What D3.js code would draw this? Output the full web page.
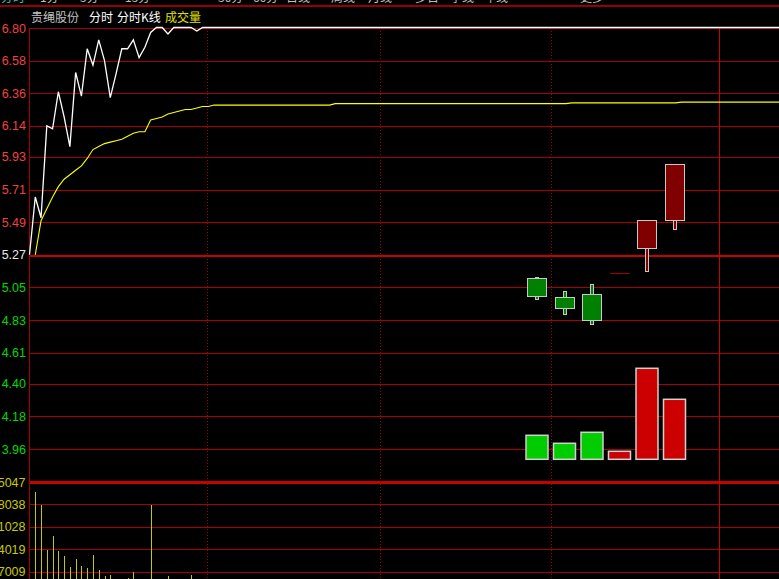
<!DOCTYPE html>
<html><head><meta charset="utf-8">
<script src="https://cdn.jsdelivr.net/npm/d3@7/dist/d3.min.js"></script>
<style>html,body{margin:0;padding:0;background:#000;overflow:hidden}</style>
</head><body>
<script>
// ---------- data ----------
const stockName = "贵绳股份";
const headerItems = ["分时", "分时K线", "成交量"];
const tabLabels = ["分时", "1分", "5分", "15分", "30分", "60分", "日线", "周线", "月线", "多日", "季线", "年线", "更多"];
const priceTicks = [6.80, 6.58, 6.36, 6.14, 5.93, 5.71, 5.49, 5.27, 5.05, 4.83, 4.61, 4.40, 4.18, 3.96];
const prevClose = 5.27;
const limitPrice = 6.80;
const volTicks = [35047, 28038, 21028, 14019, 7009];

const price = [
  5.27, 5.66, 5.52, 6.14, 6.12, 6.37, 6.20, 6.00, 6.50, 6.34,
  6.66, 6.55, 6.72, 6.58, 6.33, 6.49, 6.66, 6.66, 6.72, 6.60,
  6.67, 6.77, 6.80, 6.80, 6.76, 6.80, 6.80, 6.80, 6.80, 6.78,
  6.80, 6.80, 6.80, 6.80, 6.80, 6.80, 6.80, 6.80, 6.80, 6.80,
  6.80, 6.80, 6.80, 6.80, 6.80, 6.80, 6.80, 6.80, 6.80, 6.80,
  6.80, 6.80, 6.80, 6.80, 6.80, 6.80, 6.80, 6.80, 6.80, 6.80,
  6.80, 6.80, 6.80, 6.80, 6.80, 6.80, 6.80, 6.80, 6.80, 6.80,
  6.80, 6.80, 6.80, 6.80, 6.80, 6.80, 6.80, 6.80, 6.80, 6.80,
  6.80, 6.80, 6.80, 6.80, 6.80, 6.80, 6.80, 6.80, 6.80, 6.80,
  6.80, 6.80, 6.80, 6.80, 6.80, 6.80, 6.80, 6.80, 6.80, 6.80,
  6.80, 6.80, 6.80, 6.80, 6.80, 6.80, 6.80, 6.80, 6.80, 6.80,
  6.80, 6.80, 6.80, 6.80, 6.80, 6.80, 6.80, 6.80, 6.80, 6.80,
  6.80, 6.80, 6.80, 6.80, 6.80, 6.80, 6.80, 6.80, 6.80, 6.80,
  6.80
];
const avgPrice = [
  null, 5.27, 5.50, 5.58, 5.66, 5.73, 5.78, 5.81, 5.84, 5.87,
  5.92, 5.98, 6.00, 6.02, 6.03, 6.04, 6.05, 6.07, 6.09, 6.10,
  6.10, 6.18, 6.19, 6.20, 6.22, 6.23, 6.24, 6.25, 6.25, 6.26,
  6.27, 6.27, 6.28, 6.28, 6.28, 6.28, 6.28, 6.28, 6.28, 6.28,
  6.28, 6.28, 6.28, 6.28, 6.28, 6.28, 6.28, 6.28, 6.28, 6.28,
  6.28, 6.28, 6.28, 6.29, 6.29, 6.29, 6.29, 6.29, 6.29, 6.29,
  6.29, 6.29, 6.29, 6.29, 6.29, 6.29, 6.29, 6.29, 6.29, 6.29,
  6.29, 6.29, 6.29, 6.29, 6.29, 6.29, 6.29, 6.29, 6.29, 6.29,
  6.29, 6.29, 6.29, 6.29, 6.29, 6.29, 6.29, 6.29, 6.29, 6.29,
  6.29, 6.29, 6.29, 6.29, 6.295, 6.295, 6.295, 6.295, 6.295, 6.295,
  6.295, 6.295, 6.295, 6.295, 6.295, 6.295, 6.295, 6.295, 6.295, 6.295,
  6.295, 6.295, 6.295, 6.30, 6.30, 6.30, 6.30, 6.30, 6.30, 6.30,
  6.30, 6.30, 6.30, 6.30, 6.30, 6.30, 6.30, 6.30, 6.30, 6.30,
  6.30
];
const minuteVol = [
  0, 31900, 27970, 13840, 18210, 13630, 11970, 8450, 11040, 8860,
  8230, 12290, 7610, 5740, 6050, 3200, 2800, 5110, 6980, 3500,
  2600, 27970, 3900, 2100, 5740, 1800, 2500, 1600, 6050, 2200,
  1500, 900, 1200, 800, 600, 1000, 700, 500, 400, 600
];

const candleDays = ["D1", "D2", "D3", "D4", "D5", "D6"];
const candleOpen  = [5.11, 4.98, 5.00, 5.15, 5.31, 5.50];
const candleClose = [4.99, 4.91, 4.83, 5.15, 5.50, 5.88];
const candleHigh  = [5.12, 5.02, 5.07, 5.15, 5.50, 5.88];
const candleLow   = [4.97, 4.87, 4.80, 5.15, 5.16, 5.44];
const candleVol   = [24, 16, 27, 8, 91, 60];

const dividerIdx = [30.76, 60.75, 90.4];
const sessionEndIdx = 119.5;

// ---------- layout ----------
const W = 779, H = 579;
const svg = d3.select("body").append("svg").attr("width", W).attr("height", H)
  .style("background", "#000").style("display", "block");

const x = d3.scaleLinear().domain([0, 130]).range([29.5, 779.5]);
const yP = d3.scaleLinear().domain([3.96, 6.80]).range([449, 28]);
const yV = d3.scaleLinear().domain([0, 35047]).range([594.4, 482]);
const xC = d3.scalePoint().domain(candleDays).range([537, 674.5]);
const yCV = d3.scaleLinear().domain([0, 100]).range([459.3, 359.3]);

const gridRed = "#a80000", thickRed = "#c80000";
const numFont = "'Liberation Sans', Arial, sans-serif";
const cjkFont = "'Noto Sans CJK SC', sans-serif";

// top tab strip (mostly cut off, as in the original screen)
const tabX = [1, 40, 80, 125, 218, 253, 286, 331, 368, 415, 450, 484, 580];
svg.selectAll("text.tab").data(tabLabels).join("text").attr("class", "tab")
  .attr("x", (d, i) => tabX[i]).attr("y", 1.5)
  .attr("font-family", cjkFont).attr("font-size", 12)
  .attr("fill", (d, i) => i === 0 ? "#30c0c0" : "#c0c0c0").text(d => d);
svg.append("line").attr("x1", 0).attr("x2", W).attr("y1", 6).attr("y2", 6)
  .attr("stroke", thickRed).attr("stroke-width", 1.5);

// header
svg.append("text").attr("x", 31).attr("y", 22).attr("font-family", cjkFont)
  .attr("font-size", 12).attr("fill", "#c0c0c0").text(stockName);
const headerX = [89, 117, 165];
const headerColor = ["#ffffff", "#ffffff", "#e0e000"];
svg.selectAll("text.hd").data(headerItems).join("text").attr("class", "hd")
  .attr("x", (d, i) => headerX[i]).attr("y", 22).attr("font-family", cjkFont)
  .attr("font-size", 12).attr("fill", (d, i) => headerColor[i]).text(d => d);

// price gridlines
const gGrid = svg.append("g").attr("shape-rendering", "crispEdges");
gGrid.selectAll("line.pg").data(priceTicks).join("line").attr("class", "pg")
  .attr("x1", 29.5).attr("x2", W)
  .attr("y1", d => Math.round(yP(d)) + 0.5).attr("y2", d => Math.round(yP(d)) + 0.5)
  .attr("stroke", d => d === prevClose ? thickRed : gridRed)
  .attr("stroke-width", d => d === prevClose ? 2 : 1);
// volume gridlines
gGrid.selectAll("line.vg").data(volTicks).join("line").attr("class", "vg")
  .attr("x1", 29.5).attr("x2", W)
  .attr("y1", d => Math.round(yV(d)) + 0.5).attr("y2", d => Math.round(yV(d)) + 0.5)
  .attr("stroke", (d, i) => i === 0 ? thickRed : gridRed)
  .attr("stroke-width", (d, i) => i === 0 ? 2.5 : 1);
// left frame
gGrid.append("line").attr("x1", 29.5).attr("x2", 29.5).attr("y1", 28).attr("y2", H)
  .attr("stroke", gridRed);
// dotted dividers
gGrid.selectAll("line.dv").data(dividerIdx).join("line").attr("class", "dv")
  .attr("x1", d => Math.round(x(d)) + 0.5).attr("x2", d => Math.round(x(d)) + 0.5)
  .attr("y1", 28).attr("y2", H).attr("stroke", gridRed).attr("stroke-dasharray", "1,2");
gGrid.append("line").attr("x1", Math.round(x(sessionEndIdx)) + 0.5).attr("x2", Math.round(x(sessionEndIdx)) + 0.5)
  .attr("y1", 28).attr("y2", H).attr("stroke", thickRed);

// axis labels
svg.selectAll("text.pl").data(priceTicks).join("text").attr("class", "pl")
  .attr("x", 26).attr("y", d => yP(d) + 4.5).attr("text-anchor", "end")
  .attr("font-family", numFont).attr("font-size", 12.5)
  .attr("fill", d => d > prevClose ? "#f04040" : d < prevClose ? "#00d800" : "#e8e8e8")
  .text(d => d.toFixed(2));
svg.selectAll("text.vl").data(volTicks).join("text").attr("class", "vl")
  .attr("x", 25.5).attr("y", d => yV(d) + 4.5).attr("text-anchor", "end")
  .attr("font-family", numFont).attr("font-size", 12.5).attr("fill", "#c8c800")
  .text(d => d);

// minute volume bars
svg.append("g").attr("shape-rendering", "crispEdges")
  .selectAll("line").data(minuteVol).join("line")
  .attr("x1", (d, i) => Math.round(x(i)) + 0.5).attr("x2", (d, i) => Math.round(x(i)) + 0.5)
  .attr("y1", yV(0)).attr("y2", d => yV(d))
  .attr("stroke", "#c8c800").attr("stroke-width", 1);

// candle volumes
const isUp = i => candleClose[i] >= candleOpen[i];
svg.append("g").selectAll("rect").data(candleVol).join("rect")
  .attr("x", (d, i) => xC(candleDays[i]) - 11).attr("width", 22)
  .attr("y", d => yCV(d)).attr("height", d => yCV(0) - yCV(d))
  .attr("fill", (d, i) => isUp(i) ? "#cc0000" : "#00cc00")
  .attr("stroke", "#d0d0d0").attr("stroke-width", 1.5);

// candles
const gC = svg.append("g").attr("shape-rendering", "crispEdges");
candleDays.forEach((day, i) => {
  const cx = Math.round(xC(day));
  const col = isUp(i) ? "#800000" : "#008000";
  const o = candleOpen[i], c = candleClose[i];
  if (o === c) {
    gC.append("line").attr("x1", cx - 10).attr("x2", cx + 10)
      .attr("y1", Math.round(yP(o)) + 0.5).attr("y2", Math.round(yP(o)) + 0.5)
      .attr("stroke", "#a00000").attr("stroke-width", 1.5);
    return;
  }
  gC.append("rect").attr("x", cx - 1.5).attr("width", 3)
    .attr("y", yP(candleHigh[i])).attr("height", yP(candleLow[i]) - yP(candleHigh[i]))
    .attr("fill", col).attr("stroke", "#c8c8c8").attr("stroke-width", 1);
  gC.append("rect").attr("x", cx - 9.5).attr("width", 19)
    .attr("y", yP(Math.max(o, c))).attr("height", Math.abs(yP(o) - yP(c)))
    .attr("fill", col).attr("stroke", "#c8c8c8").attr("stroke-width", 1);
});

// average and price lines
const avgLine = d3.line().defined(d => d != null).x((d, i) => x(i)).y(d => yP(d));
svg.append("path").datum(avgPrice).attr("d", avgLine)
  .attr("fill", "none").attr("stroke", "#ffff00").attr("stroke-width", 1.1);
const priceLine = d3.line().x((d, i) => x(i)).y(d => d >= limitPrice ? 27.5 : yP(d));
svg.append("path").datum(price).attr("d", priceLine)
  .attr("fill", "none").attr("stroke", "#ffffff").attr("stroke-width", 1.3);
</script>
</body></html>
